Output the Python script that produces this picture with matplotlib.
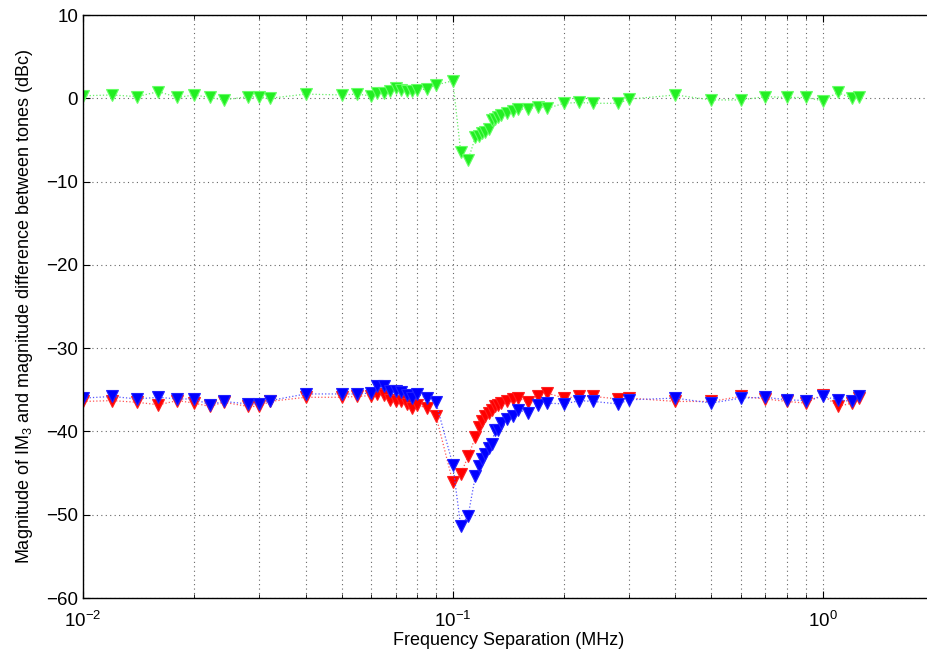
import matplotlib
matplotlib.use("Agg")
import matplotlib.pyplot as plt
from matplotlib.ticker import LogLocator, NullFormatter

plt.rcParams['font.family'] = ['Liberation Sans', 'DejaVu Sans']
plt.rcParams['mathtext.fontset'] = 'custom'
plt.rcParams['mathtext.rm'] = 'Liberation Sans'
plt.rcParams['mathtext.it'] = 'Liberation Sans:italic'

# frequency separation (MHz)
freq = [0.01, 0.012, 0.014, 0.016, 0.018, 0.02, 0.022, 0.024, 0.028, 0.03, 0.032,
        0.04, 0.05, 0.055, 0.06, 0.0625, 0.065, 0.0675, 0.07, 0.0725, 0.075, 0.0775,
        0.08, 0.085, 0.09, 0.1, 0.105, 0.11, 0.115, 0.1175, 0.12, 0.1225, 0.125,
        0.1275, 0.13, 0.1325, 0.135, 0.14, 0.145, 0.15, 0.16, 0.17, 0.18, 0.2, 0.22,
        0.24, 0.28, 0.3, 0.4, 0.5, 0.6, 0.7, 0.8, 0.9, 1.0, 1.1, 1.2, 1.25]

# magnitude difference between tones (dB)
diff_tones = [0.3, 0.4, 0.2, 0.8, 0.1, 0.4, 0.1, -0.2, 0.2, 0.1, 0.0,
              0.5, 0.4, 0.5, 0.3, 0.6, 0.6, 0.9, 1.2, 1.0, 0.9, 0.9,
              1.0, 1.1, 1.6, 2.1, -6.4, -7.4, -4.7, -4.5, -4.2, -4.0, -3.7,
              -2.6, -2.5, -2.3, -2.0, -1.8, -1.5, -1.3, -1.3, -1.0, -1.2, -0.6, -0.5,
              -0.6, -0.6, -0.1, 0.4, -0.2, -0.2, 0.2, 0.1, 0.1, -0.3, 0.7, 0.0, 0.1]

# IM3 lower / upper (dBc)
im3_red = [-36.4, -36.3, -36.5, -36.8, -36.3, -36.6, -37.0, -36.5, -37.0, -37.0, -36.4,
           -35.9, -35.9, -35.8, -35.7, -35.5, -35.6, -36.2, -36.4, -36.4, -36.7, -37.2,
           -36.8, -37.2, -38.1, -46.1, -45.1, -43.0, -40.7, -39.5, -38.8, -38.2, -37.8,
           -37.4, -37.0, -36.8, -36.6, -36.3, -36.1, -36.0, -36.5, -35.7, -35.4, -36.0, -35.8,
           -35.8, -36.1, -36.0, -36.4, -36.4, -35.8, -36.1, -36.4, -36.6, -35.6, -37.0, -36.6, -36.0]

im3_blue = [-36.0, -35.8, -36.1, -35.9, -36.1, -36.1, -36.8, -36.4, -36.7, -36.7, -36.3,
            -35.5, -35.5, -35.5, -35.4, -34.6, -34.5, -35.1, -35.2, -35.3, -35.6, -36.0,
            -35.5, -36.0, -36.5, -44.0, -51.4, -50.1, -45.4, -44.1, -43.3, -42.7, -42.0,
            -41.5, -39.8, -39.8, -39.0, -38.5, -38.2, -37.4, -37.8, -36.8, -36.6, -36.7, -36.3,
            -36.4, -36.7, -36.2, -36.0, -36.6, -36.0, -35.9, -36.2, -36.3, -35.8, -36.2, -36.4, -35.8]

fig = plt.figure(figsize=(9.28, 6.57), dpi=100)
ax = fig.add_axes([83 / 928, 59 / 657, 851 / 928, 583 / 657])

ax.plot(freq, im3_red, ls=':', lw=0.9, color='#ff5555', marker='v', ms=8.5,
        mfc='#ff0000', mec='#ff2020', mew=0.8)
ax.plot(freq, im3_blue, ls=':', lw=0.9, color='#5555ff', marker='v', ms=8.5,
        mfc='#0000ff', mec='#2020ff', mew=0.8)
ax.plot(freq, diff_tones, ls=':', lw=0.9, color='#66ee66', marker='v', ms=8.5,
        mfc='#22ee22', mec='#66ff66', mew=0.8)

ax.set_xscale('log')
ax.set_xlim(0.01, 2)
ax.set_ylim(-60, 10)
ax.set_yticks(range(-60, 11, 10))
ax.set_yticklabels(['\u221260', '\u221250', '\u221240', '\u221230', '\u221220', '\u221210', '0', '10'])
ax.xaxis.set_minor_locator(LogLocator(base=10, subs=range(2, 10)))
ax.xaxis.set_minor_formatter(NullFormatter())

ax.grid(True, which='major', ls=(0, (1, 3)), color='#666666', lw=0.8)
ax.grid(True, which='minor', axis='x', ls=(0, (1, 3)), color='#666666', lw=0.8)
ax.tick_params(which='both', direction='in', top=True, right=True, labelsize=13.5)
ax.tick_params(axis='x', which='major', pad=9)
ax.tick_params(which='major', length=5)
ax.tick_params(which='minor', length=3)
for s in ax.spines.values():
    s.set_linewidth(1.0)

ax.set_xlabel('Frequency Separation (MHz)', fontsize=13, labelpad=1)
ax.set_ylabel('Magnitude of IM$_3$ and magnitude difference between tones (dBc)',
              fontsize=13, labelpad=8)

fig.savefig('out.png', dpi=100)
